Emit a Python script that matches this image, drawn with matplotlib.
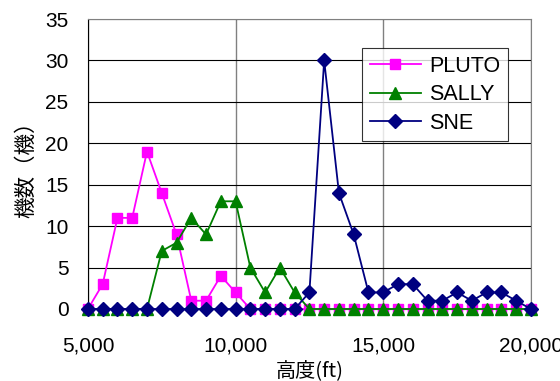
import matplotlib
matplotlib.use("Agg")
import matplotlib.pyplot as plt
from matplotlib.ticker import FuncFormatter

# altitude bins (ft), 500 ft steps
altitude = list(range(5000, 20001, 500))

pluto = [0, 3, 11, 11, 19, 14, 9, 1, 1, 4, 2, 0, 0, 0, 0, 0,
         0, 0, 0, 0, 0, 0, 0, 0, 0, 0, 0, 0, 0, 0, 0]
sally = [0, 0, 0, 0, 0, 7, 8, 11, 9, 13, 13, 5, 2, 5, 2, 0,
         0, 0, 0, 0, 0, 0, 0, 0, 0, 0, 0, 0, 0, 0, 0]
sne = [0, 0, 0, 0, 0, 0, 0, 0, 0, 0, 0, 0, 0, 0, 0, 2,
       30, 14, 9, 2, 2, 3, 3, 1, 1, 2, 1, 2, 2, 1, 0]

plt.rcParams["font.family"] = ["Liberation Sans", "Noto Sans CJK JP", "DejaVu Sans"]

fig = plt.figure(figsize=(5.6, 3.81), dpi=100)
ax = fig.add_axes([0.157, 0.189, 0.791, 0.761])

ax.plot(altitude, pluto, color="#FF00FF", marker="s", markersize=6.5,
        linewidth=1.3, label="PLUTO", clip_on=False, zorder=3)
ax.plot(altitude, sally, color="#008000", marker="^", markersize=9,
        linewidth=1.3, label="SALLY", clip_on=False, zorder=4)
ax.plot(altitude, sne, color="#000080", marker="D", markersize=7,
        linewidth=1.3, label="SNE", clip_on=False, zorder=5)

ax.set_xlim(5000, 20000)
ax.set_ylim(0, 35)
ax.set_xticks([5000, 10000, 15000, 20000])
ax.set_yticks(range(0, 36, 5))
ax.xaxis.set_major_formatter(FuncFormatter(lambda v, p: f"{int(v):,}"))

ax.yaxis.grid(True, color="black", linewidth=0.8)
ax.xaxis.grid(True, color="#808080", linewidth=1.0)
ax.set_axisbelow(True)

for side in ("top", "right"):
    ax.spines[side].set_color("#808080")
ax.spines["left"].set_color("black")
ax.spines["bottom"].set_color("black")

ax.tick_params(axis="both", labelsize=15, length=0)
ax.tick_params(axis="x", pad=20)
ax.tick_params(axis="y", pad=14)

ax.set_xlabel("高度(ft)", fontsize=14.5, labelpad=3,
              family=["Noto Sans CJK JP", "DejaVu Sans"])
ax.set_ylabel("機数（機）", fontsize=15.5, labelpad=6,
              family=["Noto Sans CJK JP", "DejaVu Sans"])

leg = ax.legend(loc="upper left", bbox_to_anchor=(0.619, 0.899),
                fontsize=15.5, frameon=True, fancybox=False,
                edgecolor="black", borderpad=0.35, labelspacing=0.35,
                handlelength=2.4, handletextpad=0.35, borderaxespad=0)
leg.get_frame().set_linewidth(0.8)

fig.savefig("out.png", dpi=100)
